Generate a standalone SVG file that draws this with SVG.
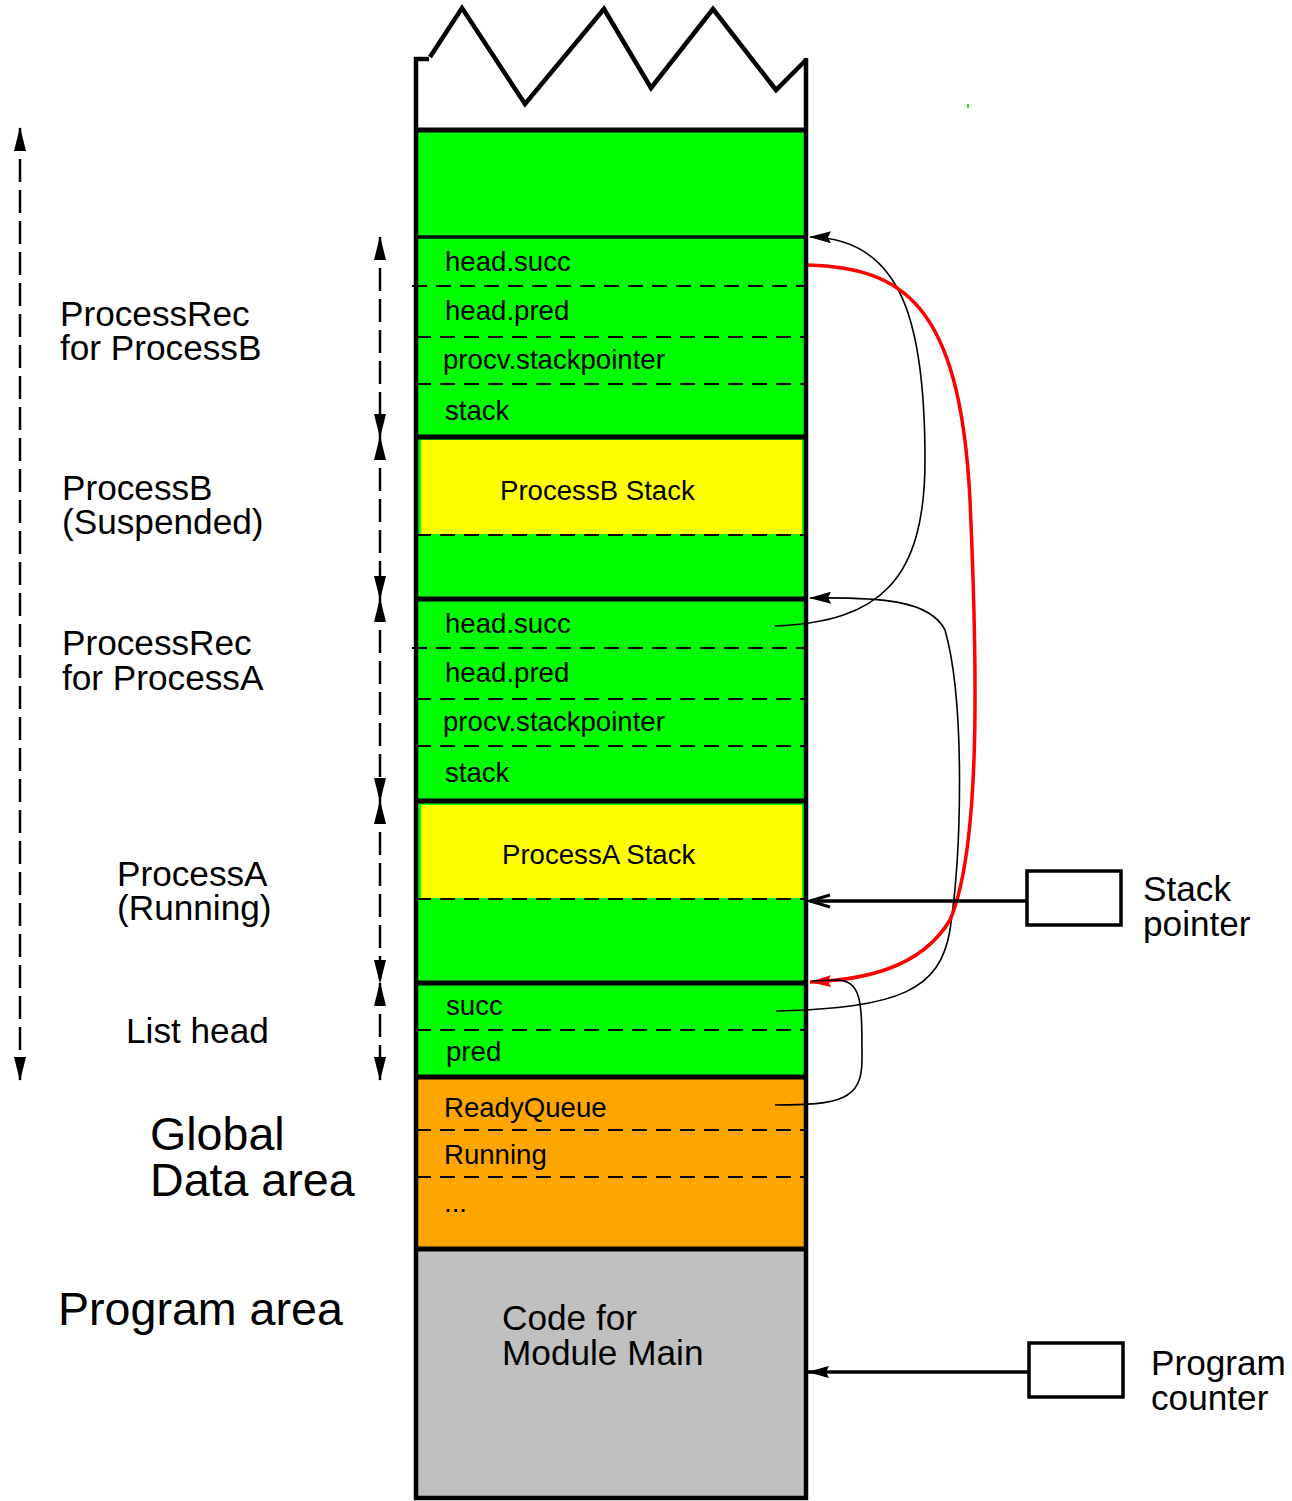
<svg xmlns="http://www.w3.org/2000/svg" width="1292" height="1501" viewBox="0 0 1292 1501">
<style>
text{font-family:"Liberation Sans",Arial,sans-serif;fill:#000}
.cell{font-size:27.6px}
.lbl{font-size:35.2px}
.big{font-size:46.6px}
.wall{stroke:#000;stroke-width:4.5;fill:none}
.sep{stroke:#000;stroke-width:5}
.dash{stroke:#000;stroke-width:2;stroke-dasharray:15 9}
.dim{stroke:#000;stroke-width:2.5;stroke-dasharray:23 8;fill:none}
.conn{stroke:#000;stroke-width:1.6;fill:none}
</style>
<defs>
<marker id="dimArrow" markerUnits="userSpaceOnUse" markerWidth="24" markerHeight="12" refX="23" refY="6" orient="auto-start-reverse" viewBox="0 0 24 12">
<path d="M0,0 L24,6 L0,12 z" fill="#000"/>
</marker>
<marker id="arr" markerUnits="userSpaceOnUse" markerWidth="22" markerHeight="12" refX="21" refY="6" orient="auto" viewBox="0 0 22 12">
<path d="M0,0 L22,6 L0,12 L3,6 z" fill="#000"/>
</marker>
<marker id="arrRed" markerUnits="userSpaceOnUse" markerWidth="22" markerHeight="12" refX="21" refY="6" orient="auto" viewBox="0 0 22 12">
<path d="M0,0 L22,6 L0,12 L3,6 z" fill="#ff0000"/>
</marker>
<marker id="openArr" markerUnits="userSpaceOnUse" markerWidth="24" markerHeight="16" refX="22" refY="8" orient="auto" viewBox="0 0 24 16">
<path d="M2,2 L22,8 L2,14" fill="none" stroke="#000" stroke-width="3"/>
</marker>
</defs>

<g id="memory-column">
<rect x="416" y="130" width="390" height="948" fill="#00ff00"/>
<rect x="421" y="440" width="381" height="94" fill="#ffff00"/>
<rect x="421" y="805" width="381" height="93" fill="#ffff00"/>
<rect x="416" y="1078" width="390" height="171" fill="#ffa500"/>
<rect x="416" y="1250" width="390" height="247" fill="#c0c0c0"/>
<polyline class="wall" points="429,59 416,59 416,1498 806,1498 806,58"/>
<polyline class="wall" points="430,57 462,8 525,104 604,9 651,88 713,9 776,90 806,60"/>
<line class="sep" x1="416" y1="130" x2="806" y2="130"/>
<line x1="416" y1="237" x2="806" y2="237" stroke="#000" stroke-width="3.5"/>
<line class="sep" x1="416" y1="437" x2="806" y2="437"/>
<line class="sep" x1="416" y1="599" x2="806" y2="599"/>
<line class="sep" x1="416" y1="801" x2="806" y2="801"/>
<line class="sep" x1="416" y1="983" x2="806" y2="983"/>
<line class="sep" x1="416" y1="1077" x2="806" y2="1077"/>
<line class="sep" x1="416" y1="1249" x2="806" y2="1249"/>
</g>

<g id="processrec-b">
<line class="dash" x1="412" y1="286" x2="806" y2="286"/>
<line class="dash" x1="416" y1="337" x2="806" y2="337"/>
<line class="dash" x1="416" y1="384" x2="806" y2="384"/>
<text class="cell" x="445" y="271">head.succ</text>
<text class="cell" x="445" y="320">head.pred</text>
<text class="cell" x="443" y="369">procv.stackpointer</text>
<text class="cell" x="445" y="420">stack</text>
</g>

<g id="processb-stack">
<line class="dash" x1="416" y1="535" x2="806" y2="535"/>
<text class="cell" x="500" y="500">ProcessB Stack</text>
</g>

<g id="processrec-a">
<line class="dash" x1="412" y1="648" x2="806" y2="648"/>
<line class="dash" x1="416" y1="699" x2="806" y2="699"/>
<line class="dash" x1="416" y1="746" x2="806" y2="746"/>
<text class="cell" x="445" y="633">head.succ</text>
<text class="cell" x="445" y="682">head.pred</text>
<text class="cell" x="443" y="731">procv.stackpointer</text>
<text class="cell" x="445" y="782">stack</text>
</g>

<g id="processa-stack">
<line class="dash" x1="416" y1="899" x2="806" y2="899"/>
<text class="cell" x="502" y="864">ProcessA Stack</text>
</g>

<g id="list-head">
<line class="dash" x1="416" y1="1030" x2="806" y2="1030"/>
<text class="cell" x="446" y="1015">succ</text>
<text class="cell" x="446" y="1061">pred</text>
</g>

<g id="global-data">
<line class="dash" x1="416" y1="1130" x2="806" y2="1130"/>
<line class="dash" x1="416" y1="1177" x2="806" y2="1177"/>
<text class="cell" x="444" y="1117">ReadyQueue</text>
<text class="cell" x="444" y="1164">Running</text>
<text class="cell" x="444" y="1212">...</text>
</g>

<g id="program-area">
<text class="lbl" x="502" y="1330">Code for</text>
<text class="lbl" x="502" y="1365">Module Main</text>
</g>

<g id="stack-pointer">
<rect x="1027" y="871" width="94" height="54" fill="#fff" stroke="#000" stroke-width="3.5"/>
<text class="lbl" x="1143" y="901">Stack</text>
<text class="lbl" x="1143" y="936">pointer</text>
</g>

<g id="program-counter">
<rect x="1029" y="1343" width="94" height="54" fill="#fff" stroke="#000" stroke-width="3.5"/>
<text class="lbl" x="1151" y="1375">Program</text>
<text class="lbl" x="1151" y="1410">counter</text>
</g>

<g id="labels">
<text class="lbl" x="60" y="326">ProcessRec</text>
<text class="lbl" x="60" y="360">for ProcessB</text>
<text class="lbl" x="62" y="500">ProcessB</text>
<text class="lbl" x="62" y="534">(Suspended)</text>
<text class="lbl" x="62" y="655">ProcessRec</text>
<text class="lbl" x="62" y="690">for ProcessA</text>
<text class="lbl" x="117" y="886">ProcessA</text>
<text class="lbl" x="117" y="920">(Running)</text>
<text class="lbl" x="126" y="1043">List head</text>
<text class="big" x="150" y="1150">Global</text>
<text class="big" x="150" y="1196">Data area</text>
<text class="big" x="58" y="1325">Program area</text>
</g>

<g id="connectors">
<line class="dim" x1="20" y1="128" x2="20" y2="1080" marker-start="url(#dimArrow)" marker-end="url(#dimArrow)"/>
<line class="dim" x1="380" y1="237" x2="380" y2="437" marker-start="url(#dimArrow)" marker-end="url(#dimArrow)"/>
<line class="dim" x1="380" y1="437" x2="380" y2="599" marker-start="url(#dimArrow)" marker-end="url(#dimArrow)"/>
<line class="dim" x1="380" y1="599" x2="380" y2="801" marker-start="url(#dimArrow)" marker-end="url(#dimArrow)"/>
<line class="dim" x1="380" y1="801" x2="380" y2="983" marker-start="url(#dimArrow)" marker-end="url(#dimArrow)"/>
<line class="dim" x1="380" y1="983" x2="380" y2="1080" marker-start="url(#dimArrow)" marker-end="url(#dimArrow)"/>
<path class="conn" d="M775,626 C880,622 925,580 925,460 C925,330 905,238 810,237" marker-end="url(#arr)"/>
<path class="conn" d="M776,1011 C900,1008 940,990 950,930 C962,850 965,700 945,630 C930,600 880,597 810,598" marker-end="url(#arr)"/>
<path d="M808,265 C900,268 960,300 970,500 C978,680 980,850 950,920 C920,970 860,980 810,982" fill="none" stroke="#ff0000" stroke-width="3.5" marker-end="url(#arrRed)"/>
<path class="conn" d="M775,1105 C840,1105 862,1100 862,1060 C862,1000 862,980 835,980 L812,981"/>
<line x1="1027" y1="901" x2="810" y2="901" stroke="#000" stroke-width="3.5" marker-end="url(#openArr)"/>
<line x1="1029" y1="1372" x2="808" y2="1372" stroke="#000" stroke-width="3.5" marker-end="url(#arr)"/>
</g>
<rect x="967" y="104" width="2" height="4" fill="#00ff00"/>
</svg>
